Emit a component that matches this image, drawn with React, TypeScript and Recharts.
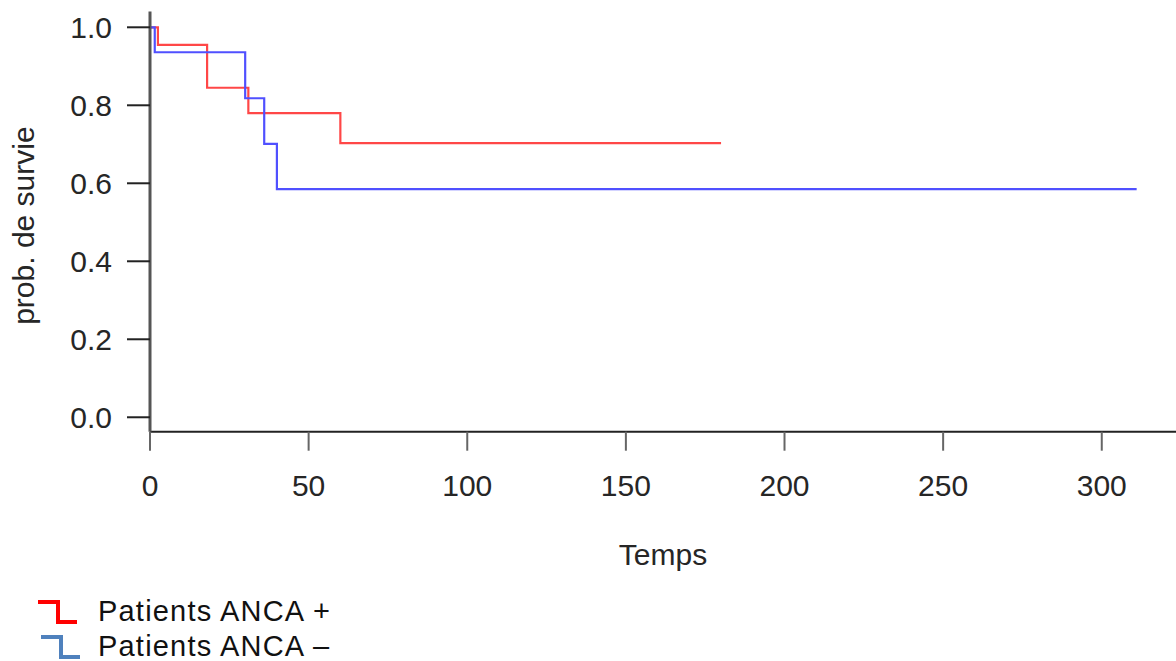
import React from "react";
import { LineChart, Line, XAxis, YAxis, Label } from "recharts";

// Kaplan-Meier step data
const redTimes = [0, 2.5, 18, 31, 60, 180];
const redSurvival = [1, 0.955, 0.845, 0.78, 0.703, 0.703];
const blueTimes = [0, 1.5, 30, 36, 40, 311];
const blueSurvival = [1, 0.936, 0.818, 0.701, 0.585, 0.585];

const xTicks = [0, 50, 100, 150, 200, 250, 300];
const yTicks = [0, 0.2, 0.4, 0.6, 0.8, 1.0];
const xDomain: [number, number] = [0, 323.4];
const yDomain: [number, number] = [-0.037, 1.0405];

const xTitle = "Temps";
const yTitle = "prob. de survie";
const legendLabels = ["Patients ANCA +", "Patients ANCA \u2013"];
const legendColors = ["#ff0000", "#4f81bd"];

const redData = redTimes.map((t, i) => ({ t, s: redSurvival[i] }));
const blueData = blueTimes.map((t, i) => ({ t, s: blueSurvival[i] }));

const FONT = "'Liberation Sans', Arial, Helvetica, sans-serif";
const W = 1176;
const H = 661;

export default function App() {
  return (
    <div style={{ position: "absolute", left: 0, top: 0, width: W, height: H, background: "#fff", overflow: "hidden" }}>
      <LineChart
        width={W}
        height={H}
        margin={{ top: 11.5, right: 0, left: 0, bottom: 89.3 }}
        style={{ fontFamily: FONT }}
      >
        <XAxis
          xAxisId="top"
          orientation="top"
          type="number"
          dataKey="t"
          domain={xDomain}
          height={0}
          tick={false}
          tickLine={false}
          axisLine={{ stroke: "#9a9a9a", strokeWidth: 3 }}
          allowDataOverflow
        />
        <XAxis
          type="number"
          dataKey="t"
          domain={xDomain}
          ticks={xTicks}
          height={140}
          tickSize={19}
          tickMargin={24}
          allowDataOverflow
          axisLine={{ stroke: "#222", strokeWidth: 2 }}
          tickLine={{ stroke: "#666", strokeWidth: 2 }}
          tick={{ fontSize: 30, fill: "#262626", fontFamily: FONT }}
        >
          <Label
            content={({ viewBox }: any) => (
              <text
                x={viewBox.x + viewBox.width / 2}
                y={565}
                textAnchor="middle"
                fontSize={30}
                fill="#262626"
                fontFamily={FONT}
              >
                {xTitle}
              </text>
            )}
          />
        </XAxis>
        <YAxis
          type="number"
          domain={yDomain}
          ticks={yTicks}
          width={150}
          tickSize={23}
          tickMargin={15}
          allowDataOverflow
          tickFormatter={(v: number) => v.toFixed(1)}
          axisLine={{ stroke: "#555", strokeWidth: 3 }}
          tickLine={{ stroke: "#222", strokeWidth: 2 }}
          tick={{ fontSize: 30, fill: "#262626", fontFamily: FONT }}
        >
          <Label
            content={({ viewBox }: any) => {
              const cx = 23.4;
              const cy = viewBox.y + viewBox.height / 2 + 4;
              return (
                <text
                  x={cx}
                  y={cy}
                  dy="0.355em"
                  textAnchor="middle"
                  transform={`rotate(-90 ${cx} ${cy})`}
                  fontSize={30}
                  fill="#262626"
                  fontFamily={FONT}
                >
                  {yTitle}
                </text>
              );
            }}
          />
        </YAxis>
        <Line
          data={redData}
          dataKey="s"
          type="stepAfter"
          stroke="#ff4747"
          strokeWidth={2.2}
          dot={false}
          activeDot={false}
          isAnimationActive={false}
        />
        <Line
          data={blueData}
          dataKey="s"
          type="stepAfter"
          stroke="#5050ff"
          strokeWidth={2.2}
          dot={false}
          activeDot={false}
          isAnimationActive={false}
        />
      </LineChart>
      <svg
        width={W}
        height={H}
        style={{ position: "absolute", left: 0, top: 0, pointerEvents: "none" }}
      >
        {legendLabels.map((lab, i) => {
          const top = 602 + i * 35;
          const x0 = 38 + i * 3;
          return (
            <g key={lab}>
              <polyline
                points={`${x0},${top} ${x0 + 20},${top} ${x0 + 20},${top + 20} ${x0 + 39},${top + 20}`}
                fill="none"
                stroke={legendColors[i]}
                strokeWidth={4}
              />
              <text
                x={98}
                y={top + 19}
                fontSize={29}
                letterSpacing={1.2}
                fill="#111"
                fontFamily={FONT}
              >
                {lab}
              </text>
            </g>
          );
        })}
      </svg>
    </div>
  );
}
